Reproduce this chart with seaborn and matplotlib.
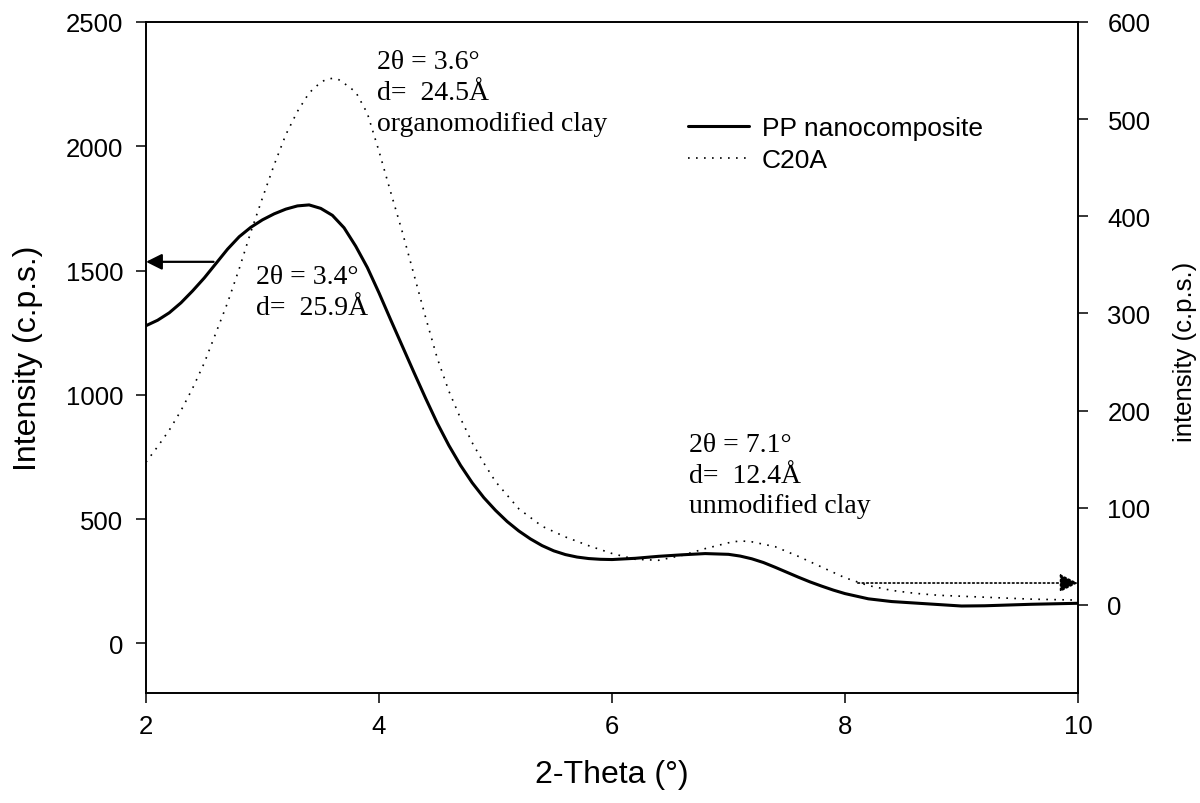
import matplotlib
matplotlib.use('Agg')
import matplotlib.pyplot as plt
from matplotlib.lines import Line2D
import seaborn as sns
import pandas as pd

# PP nanocomposite, left axis (c.p.s.)
two_theta_pp = [2.0, 2.1, 2.2, 2.3, 2.4, 2.5, 2.6, 2.7, 2.8, 2.9,
                3.0, 3.1, 3.2, 3.3, 3.4, 3.5, 3.6, 3.7, 3.8, 3.9,
                4.0, 4.1, 4.2, 4.3, 4.4, 4.5, 4.6, 4.7, 4.8, 4.9,
                5.0, 5.1, 5.2, 5.3, 5.4, 5.5, 5.6, 5.7, 5.8, 5.9,
                6.0, 6.2, 6.4, 6.6, 6.8, 7.0, 7.1, 7.2, 7.3, 7.4,
                7.5, 7.6, 7.7, 7.8, 7.9, 8.0, 8.2, 8.4, 8.6, 8.8,
                9.0, 9.2, 9.4, 9.6, 9.8, 10.0]
intensity_pp = [1278, 1300, 1330, 1370, 1418, 1470, 1528, 1586, 1636, 1674,
                1704, 1728, 1747, 1760, 1764, 1750, 1722, 1672, 1598, 1512,
                1410, 1302, 1196, 1090, 986, 886, 796, 716, 646, 586,
                535, 490, 452, 420, 393, 372, 357, 347, 341, 338,
                337, 342, 350, 356, 361, 358, 351, 340, 325, 306,
                286, 266, 247, 230, 214, 200, 179, 168, 162, 156,
                150, 151, 154, 157, 159, 161]

# C20A organoclay, right axis (c.p.s.)
two_theta_c20a = [2.0, 2.1, 2.2, 2.3, 2.4, 2.5, 2.6, 2.7, 2.8, 2.9,
                  3.0, 3.1, 3.2, 3.3, 3.4, 3.5, 3.55, 3.6, 3.65, 3.7,
                  3.8, 3.9, 4.0, 4.1, 4.2, 4.3, 4.4, 4.5, 4.6, 4.7,
                  4.8, 4.9, 5.0, 5.2, 5.4, 5.6, 5.8, 6.0, 6.2, 6.4,
                  6.6, 6.8, 7.0, 7.1, 7.2, 7.4, 7.6, 7.8, 8.0, 8.2,
                  8.4, 8.6, 8.8, 9.0, 9.2, 9.4, 9.6, 9.8, 10.0]
intensity_c20a = [147, 163, 180, 200, 223, 249, 280, 311, 346, 384,
                  419, 453, 484, 508, 527, 538, 541, 542, 541, 537,
                  528, 506, 467, 425, 384, 340, 296, 254, 220, 192,
                  167, 146, 127, 99, 81, 70, 61, 53, 47, 46,
                  51, 58, 64, 66, 65, 60, 50, 39, 28, 20,
                  15, 12, 10, 9, 8, 7, 6, 5.5, 5]

left_ticks = [0, 500, 1000, 1500, 2000, 2500]
right_ticks = [0, 100, 200, 300, 400, 500, 600]
x_ticks = [2, 4, 6, 8, 10]

peak_notes = [
    (3.98, 2390, '2\u03b8 = 3.6\u00b0\nd=  24.5\u00c5\norganomodified clay'),
    (2.94, 1525, '2\u03b8 = 3.4\u00b0\nd=  25.9\u00c5'),
    (6.66, 850, '2\u03b8 = 7.1\u00b0\nd=  12.4\u00c5\nunmodified clay'),
]

df_pp = pd.DataFrame({'two_theta': two_theta_pp, 'intensity': intensity_pp})
df_c20a = pd.DataFrame({'two_theta': two_theta_c20a, 'intensity': intensity_c20a})

sns.set_theme(style='ticks', rc={'axes.edgecolor': 'black', 'axes.linewidth': 1.2,
                                 'xtick.color': 'black', 'ytick.color': 'black',
                                 'text.color': 'black', 'axes.labelcolor': 'black'})
plt.rcParams['font.family'] = ['Liberation Sans', 'DejaVu Sans']

fig = plt.figure(figsize=(12, 8.04), dpi=100)
ax = fig.add_axes([146 / 1200, 1 - 694 / 804, 932 / 1200, 671 / 804])
ax2 = ax.twinx()

dots = (0, (1, 3.8))
sns.lineplot(data=df_pp, x='two_theta', y='intensity', ax=ax, color='black', lw=2.2, legend=False)
sns.lineplot(data=df_c20a, x='two_theta', y='intensity', ax=ax2, color='black', lw=1.2,
             linestyle=dots, legend=False)

ax.set_xlim(2, 10)
ax.set_ylim(-200, 2500)
ax2.set_ylim(-90.6, 600)
ax.set_xticks(x_ticks)
ax.set_yticks(left_ticks)
ax2.set_yticks(right_ticks)

ax.tick_params(axis='both', direction='out', length=7.2, width=1.1, labelsize=18.5)
ax.tick_params(axis='y', pad=9)
ax.tick_params(axis='x', pad=8)
ax2.tick_params(axis='y', direction='out', length=7.2, width=1.1, labelsize=18.5, pad=14)

ax.set_xlabel('2-Theta (\u00b0)', fontsize=23)
ax.set_ylabel('Intensity (c.p.s.)', fontsize=23)
ax2.set_ylabel('intensity (c.p.s.)', fontsize=18.5)
ax.yaxis.set_label_coords(-0.111, 0.5)
ax2.yaxis.set_label_coords(1.102, 0.51)
ax.xaxis.set_label_coords(0.5, -0.098)

for spine in list(ax.spines.values()) + list(ax2.spines.values()):
    spine.set_color('black')
    spine.set_linewidth(1.2)

# arrows pointing to the axis each curve belongs to
ax.annotate('', xy=(2.0, 1535), xytext=(2.58, 1535),
            arrowprops=dict(arrowstyle='-|>', color='black', lw=1.6,
                            mutation_scale=24, shrinkA=0, shrinkB=0))
ax2.annotate('', xy=(10.0, 22.6), xytext=(8.11, 22.6),
             arrowprops=dict(arrowstyle='-|>', color='black', lw=1.2, linestyle=':',
                             mutation_scale=28, shrinkA=0, shrinkB=0))

for x, y, note in peak_notes:
    ax.text(x, y, note, ha='left', va='top', fontsize=20, linespacing=1.3,
            family=['Liberation Serif', 'DejaVu Serif'])

handles = [Line2D([], [], color='black', lw=2.2),
           Line2D([], [], color='black', lw=1.2, linestyle=dots)]
fig.legend(handles, ['PP nanocomposite', 'C20A'], loc='upper left',
           bbox_to_anchor=(688 / 1200, 1 - 117 / 804), frameon=False,
           fontsize=19, handlelength=2.3, handletextpad=0.5,
           labelspacing=0.32, borderpad=0, borderaxespad=0)

fig.savefig('out.png', dpi=100)
